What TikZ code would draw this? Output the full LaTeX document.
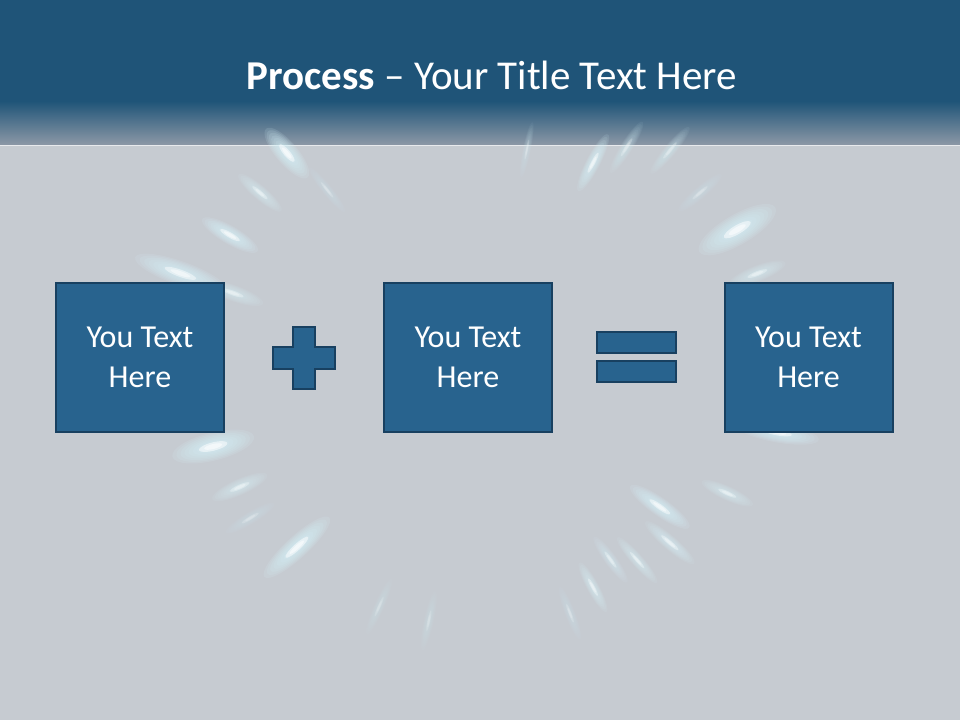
\documentclass[tikz,border=0pt]{standalone}
\usepackage{fontspec}
\setmainfont{Carlito}
\definecolor{hdr}{RGB}{31,84,120}
\definecolor{hdrlow}{RGB}{140,152,166}
\definecolor{bggray}{RGB}{198,203,209}
\definecolor{boxfill}{RGB}{40,99,142}
\definecolor{boxedge}{RGB}{24,64,96}
\definecolor{rayc}{RGB}{215,245,252}
\tikzset{
  textbox/.style={draw=boxedge,line width=2pt,fill=boxfill,minimum width=168pt,minimum height=149pt,
    text=white,align=center,font=\fontsize{32}{40}\selectfont,inner sep=0pt},
  sign/.style={draw=boxedge,line width=2pt,fill=boxfill}
}
\begin{document}
\begin{tikzpicture}[x=1pt,y=-1pt]
\useasboundingbox (0,0) rectangle (960,720);
% background
\fill[bggray] (0,0) rectangle (960,720);
% header
\fill[hdr] (0,0) rectangle (960,102);
\shade[top color=hdr,bottom color=hdrlow] (0,101) rectangle (960,145);
\draw[white!60!bggray,line width=0.8pt] (0,145) -- (960,145);
% light rays
\begin{scope}[shift={(480,380)}]
\foreach \a/\r/\l/\w/\o in {
  -130.4/298/32/11/1.0, -139.6/289/28/7/0.6, -149.9/289/32/9/0.9, -160.4/318/48/12/0.9, -160.6/262/32/8/0.6,
  -128.8/244/28/5/0.35, -62.5/245/32/7/0.8, -57.8/275/30/6/0.45, -50.4/298/30/6/0.45, -30.3/298/44/15/1.0,
  -21/297/30/8/0.6, -40.4/289/28/6/0.35, -78.5/235/28/4/0.35,
  166/275/42/14/1.0, 156/263/30/8/0.6, 137.6/248/44/11/1.0, 149/268/28/6/0.35, 114/248/30/5/0.3, 102/246/30/5/0.3,
  10/302/42/10/0.9, 24.6/272/28/7/0.6, 35.2/220/36/9/0.9, 40.6/250/32/7/0.7, 54/222/28/6/0.55, 48.9/239/30/6/0.6,
  61.4/236/28/6/0.65, 68.9/250/28/5/0.35}{
  \foreach \k in {1,0.9,0.8,0.7,0.6,0.5,0.4,0.3}{
    \fill[rayc,opacity=0.13*\o,rotate=-\a] (\r,0) ellipse [x radius=\k*\l, y radius=\k*\w];
  }
  \fill[white,opacity=0.5*\o,rotate=-\a] (\r,0) ellipse [x radius=0.35*\l, y radius=0.3*\w];
  \fill[white,opacity=0.5*\o,rotate=-\a] (\r,0) ellipse [x radius=0.22*\l, y radius=0.18*\w];
}
\end{scope}
% title
\node[text=white,font=\fontsize{41}{44}\selectfont] (title) at (492,75) {\textbf{Process} – Your Title Text Here};
% boxes
\node[textbox] (b1) at (140,357.5) {You Text\\Here};
\node[textbox] (b2) at (468,357.5) {You Text\\Here};
\node[textbox] (b3) at (808.5,357.5) {You Text\\Here};
% plus
\draw[sign] (293,327) -- (315,327) -- (315,347) -- (335,347) -- (335,369) -- (315,369) -- (315,389)
  -- (293,389) -- (293,369) -- (273,369) -- (273,347) -- (293,347) -- cycle;
% equals
\draw[sign] (597,332) rectangle (676,353);
\draw[sign] (597,361) rectangle (676,382);
\end{tikzpicture}
\end{document}
